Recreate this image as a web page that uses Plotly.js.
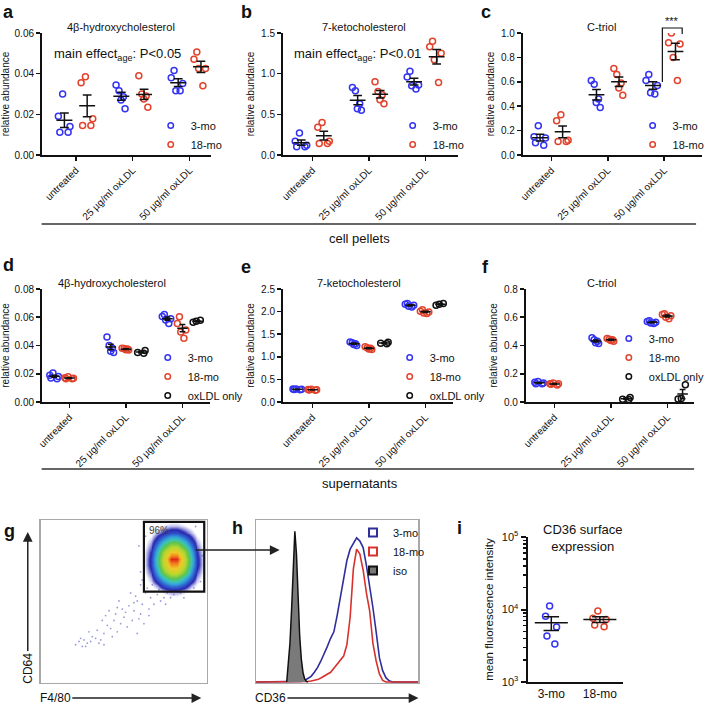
<!DOCTYPE html>
<html>
<head>
<meta charset="utf-8">
<script src="https://cdn.plot.ly/plotly-3.0.1.min.js"></script>
<style>html,body{margin:0;padding:0;background:#fff}#fig{width:710px;height:706px}</style>
</head>
<body>
<div id="fig"></div>
<script>
var W = 710, H = 706;
function px(x) { return x / W; }
function py(y) { return 1 - y / H; }

var FONT = 'Liberation Sans, Arial, sans-serif';
var blue = '#3434f2', red = '#e2432d', ink = '#111';

var treat = ['untreated', '25 µg/ml oxLDL', '50 µg/ml oxLDL'];
var sup = ['25 µg/ml oxLDL', '50 µg/ml oxLDL'];

// cell pellets (a-c): one array per treatment, 5 mice each
var a3 = [[0.030, 0.019, 0.014, 0.0112, 0.0112], [0.0344, 0.0316, 0.0286, 0.027, 0.0228], [0.0415, 0.038, 0.0352, 0.0316, 0.0316]];
var a18 = [[0.0385, 0.0355, 0.0178, 0.0145, 0.0145], [0.039, 0.030, 0.029, 0.0275, 0.0235], [0.0506, 0.0471, 0.0426, 0.0426, 0.034]];
var b3 = [[0.27, 0.17, 0.12, 0.10, 0.10], [0.83, 0.79, 0.63, 0.57, 0.55], [1.03, 0.96, 0.86, 0.85, 0.81]];
var b18 = [[0.40, 0.34, 0.17, 0.14, 0.14], [0.90, 0.78, 0.74, 0.68, 0.63], [1.40, 1.33, 1.25, 1.17, 0.89]];
var c3 = [[0.24, 0.15, 0.14, 0.10, 0.08], [0.61, 0.58, 0.46, 0.43, 0.39], [0.66, 0.61, 0.57, 0.51, 0.50]];
var c18 = [[0.33, 0.28, 0.12, 0.11, 0.11], [0.71, 0.66, 0.59, 0.55, 0.49], [1.0, 0.92, 0.91, 0.80, 0.61]];

// supernatants (d-f)
var d3 = [[0.0205, 0.019, 0.018, 0.017, 0.0165], [0.046, 0.040, 0.038, 0.036, 0.035], [0.062, 0.0605, 0.059, 0.058, 0.0555]];
var d18 = [[0.0178, 0.0172, 0.0168, 0.0165, 0.0165], [0.038, 0.0378, 0.0375, 0.037, 0.0368], [0.0603, 0.0555, 0.051, 0.0495, 0.0452]];
var dOx = [[0.0365, 0.035, 0.0345], [0.0578, 0.0572, 0.0565]];
var e3 = [[0.29, 0.285, 0.28, 0.275, 0.27], [1.33, 1.31, 1.29, 1.27, 1.25], [2.18, 2.16, 2.14, 2.12, 2.10]];
var e18 = [[0.28, 0.275, 0.27, 0.265, 0.26], [1.22, 1.20, 1.19, 1.17, 1.16], [2.04, 2.01, 1.99, 1.97, 1.96]];
var eOx = [[1.32, 1.30, 1.29], [2.18, 2.16, 2.14]];
var f3 = [[0.145, 0.14, 0.135, 0.13, 0.13], [0.455, 0.44, 0.43, 0.42, 0.415], [0.575, 0.57, 0.565, 0.56, 0.555]];
var f18 = [[0.135, 0.13, 0.13, 0.125, 0.12], [0.45, 0.445, 0.44, 0.435, 0.43], [0.625, 0.62, 0.61, 0.60, 0.59]];
var fOx = [[0.032, 0.02, 0.018], [0.122, 0.025, 0.022]];

// g: F4/80 x CD64 density (arbitrary 0-100 scale)
var gX = [58, 62, 66, 70, 74, 78, 82, 86, 90, 94, 98];
var gY = [52, 56, 60, 64, 68, 72, 76, 80, 84, 88, 92, 96, 100];
var gZ = [
  [0, 0, 0, 0, 0, 0.1, 0.1, 0, 0, 0, 0],
  [0, 0, 0, 0.1, 0.4, 0.6, 0.6, 0.4, 0.1, 0, 0],
  [0, 0, 0.2, 0.6, 1.5, 2.1, 2.1, 1.5, 0.6, 0.2, 0],
  [0, 0.05, 0.5, 1.6, 3.0, 4.3, 4.3, 3.0, 1.6, 0.5, 0.05],
  [0, 0.15, 0.8, 2.4, 5.0, 6.8, 6.8, 5.0, 2.4, 0.8, 0.15],
  [0, 0.2, 1.1, 3.1, 6.3, 8.6, 8.6, 6.3, 3.1, 1.1, 0.2],
  [0, 0.2, 1.1, 3.3, 6.6, 10, 10, 6.6, 3.3, 1.1, 0.2],
  [0, 0.2, 0.9, 2.8, 5.7, 7.8, 7.8, 5.7, 2.8, 0.9, 0.2],
  [0, 0.1, 0.65, 2.0, 3.9, 5.6, 5.6, 3.9, 2.0, 0.65, 0.1],
  [0, 0.05, 0.35, 1.1, 2.2, 3.1, 3.1, 2.2, 1.1, 0.35, 0.05],
  [0, 0, 0.1, 0.5, 0.95, 1.4, 1.4, 0.95, 0.5, 0.1, 0],
  [0, 0, 0, 0.1, 0.3, 0.45, 0.45, 0.3, 0.1, 0, 0],
  [0, 0, 0, 0, 0, 0.05, 0.05, 0, 0, 0, 0]
];
// sparse events outside the dense population
var tailX = [21, 23, 25, 26, 28, 30, 27, 33, 35, 24, 31, 36, 38, 34, 38, 40, 42, 37, 44, 46, 45, 48, 50, 52, 49, 53, 55, 56, 58, 60, 57, 61, 63, 62, 65, 66, 68, 64, 70, 67, 72, 74, 71, 76, 78, 80, 84, 88, 92, 86, 75, 58, 47, 41, 54, 60, 69, 96, 95, 97, 60, 62, 59, 63, 98, 66, 93, 61, 43, 39, 29, 51, 56, 73, 79, 83, 90, 65, 59, 46];
var tailY = [23, 25, 22, 26, 24, 25, 22, 27, 24, 27, 28, 26, 23, 32, 30, 35, 33, 38, 38, 31, 42, 36, 40, 34, 45, 47, 38, 44, 50, 42, 53, 48, 55, 36, 45, 52, 48, 58, 54, 60, 50, 52, 57, 55, 52, 54, 55, 56, 58, 52, 48, 30, 50, 44, 55, 60, 64, 62, 70, 78, 68, 76, 84, 90, 86, 94, 96, 63, 28, 41, 31, 43, 49, 58, 57, 58, 60, 41, 39, 46];

// h: CD36 histograms (channel 0-100, % of max)
var histX = [0, 2, 4, 6, 8, 10, 12, 14, 16, 18, 20, 22, 24, 26, 28, 30, 32, 34, 36, 38, 40, 42, 44, 46, 48, 50, 52, 54, 56, 58, 60, 62, 64, 66, 68, 70, 72, 74, 76, 78, 80, 82, 84, 86, 88, 90, 92, 94, 96, 98, 100];
var hist3 = [0, 0, 0, 0, 0, 0, 0, 0, 0, 0, 0, 0, 0, 0, 0.4, 1, 2, 3.5, 6, 9, 13, 17, 22, 27, 31, 41, 52, 64, 75, 82, 86, 89, 87, 83, 72, 60, 46, 31, 15, 7, 2.7, 0.8, 0, 0, 0, 0, 0, 0, 0, 0, 0];
var hist18 = [0, 0, 0, 0, 0, 0, 0, 0, 0, 0, 0, 0, 0, 0, 0, 0, 0.3, 0.6, 1, 1.5, 2.5, 3.5, 4.5, 6, 8.5, 11, 13, 16, 23, 40, 70, 82, 79, 69, 55, 44, 24, 13, 5, 1, 0, 0, 0, 0, 0, 0, 0, 0, 0, 0, 0];
var isoX = [19, 20, 21, 22, 23, 24, 25, 26, 27, 28, 29, 30, 31, 32];
var isoY = [0, 10, 24, 45, 76, 93, 79, 50, 28, 14, 6, 2, 0.5, 0];

// i: CD36 MFI
var iCats = ['3-mo', '18-mo'];
var i3 = [11200, 8100, 5750, 4300, 3350];
var i18 = [9500, 7600, 7300, 6100, 5800];

function mean(v) { return v.reduce(function (s, x) { return s + x; }, 0) / v.length; }
function sem(v) {
  var m = mean(v);
  var ss = v.reduce(function (s, x) { return s + (x - m) * (x - m); }, 0);
  return Math.sqrt(ss / (v.length - 1)) / Math.sqrt(v.length);
}

function dots(ax, cats, vals, color, og, jit) {
  var xs = [], ys = [];
  vals.forEach(function (v, i) { v.forEach(function (y) { xs.push(cats[i]); ys.push(y); }); });
  return {
    type: 'box', x: xs, y: ys, xaxis: 'x' + ax, yaxis: 'y' + ax, offsetgroup: og,
    boxpoints: 'all', jitter: jit, pointpos: 0,
    line: {width: 0, color: color}, fillcolor: 'rgba(0,0,0,0)',
    marker: {symbol: 'circle-open', size: 6, color: color, line: {width: 1.5, color: color}},
    showlegend: false, hoverinfo: 'skip'
  };
}
function meanSem(ax, cats, vals, og, width) {
  var m = vals.map(mean), s = vals.map(sem);
  var t = {
    type: 'box', x: cats, q1: m, median: m, q3: m,
    lowerfence: m.map(function (v, i) { return v - s[i]; }),
    upperfence: m.map(function (v, i) { return v + s[i]; }),
    xaxis: 'x' + ax, yaxis: 'y' + ax, offsetgroup: og, boxpoints: false,
    whiskerwidth: 0.55, line: {color: ink, width: 1.5}, fillcolor: 'rgba(0,0,0,0)',
    showlegend: false, hoverinfo: 'skip'
  };
  if (width) { t.width = width; t.whiskerwidth = 0.47; }
  return t;
}
function key(name, color, legend, symbol, fill, lw) {
  return {
    type: 'scatter', x: [null], y: [null], mode: 'markers', name: name, legend: legend,
    marker: {symbol: symbol || 'circle-open', size: symbol ? 8 : 5.5, color: fill || color, line: {width: lw || 1.5, color: color}},
    hoverinfo: 'skip'
  };
}

var data = [];
function panel(ax, g3, g18, gOx, legend) {
  data.push(dots(ax, treat, g3, blue, '3mo', gOx ? 1 : 0.9), meanSem(ax, treat, g3, '3mo'));
  data.push(dots(ax, treat, g18, red, '18mo', gOx ? 1 : 0.9), meanSem(ax, treat, g18, '18mo'));
  if (gOx) data.push(dots(ax, sup, gOx, ink, 'ox', 1), meanSem(ax, sup, gOx, 'ox'));
  data.push(key('3-mo', blue, legend), key('18-mo', red, legend));
  if (gOx) data.push(key('oxLDL only', ink, legend));
}
panel('', a3, a18, null, 'legend');
panel('2', b3, b18, null, 'legend2');
panel('3', c3, c18, null, 'legend3');
panel('4', d3, d18, dOx, 'legend4');
panel('5', e3, e18, eOx, 'legend5');
panel('6', f3, f18, fOx, 'legend6');

// g
data.push({
  type: 'scatter', mode: 'markers', x: tailX, y: tailY, xaxis: 'x7', yaxis: 'y7',
  marker: {size: 1.8, color: '#4848c0', opacity: 0.55}, showlegend: false, hoverinfo: 'skip'
});
data.push({
  type: 'heatmap', x: gX, y: gY, z: gZ, zsmooth: 'best', zmin: 0, zmax: 10, showscale: false,
  xaxis: 'x7', yaxis: 'y7', hoverinfo: 'skip',
  colorscale: [[0, 'rgba(255,255,255,0)'], [0.02, 'rgba(70,70,200,0)'], [0.05, 'rgba(50,50,190,0.4)'],
    [0.09, '#2a2ab0'], [0.16, '#2f5fd0'], [0.24, '#35a0d8'], [0.32, '#3cc4b8'],
    [0.42, '#5cc450'], [0.6, '#b8d830'], [0.78, '#f0c828'], [0.9, '#f08020'], [1, '#e02818']]
});

// h
var navy = '#2f2f9c', hred = '#d8312c';
data.push({type: 'scatter', mode: 'lines', x: histX, y: hist3, xaxis: 'x8', yaxis: 'y8', line: {color: navy, width: 1.6}, showlegend: false, hoverinfo: 'skip'});
data.push({type: 'scatter', mode: 'lines', x: histX, y: hist18, xaxis: 'x8', yaxis: 'y8', line: {color: hred, width: 1.6}, showlegend: false, hoverinfo: 'skip'});
data.push({type: 'scatter', mode: 'lines', x: isoX, y: isoY, xaxis: 'x8', yaxis: 'y8', fill: 'tozeroy', fillcolor: '#7a7a7a', line: {color: ink, width: 1.5}, showlegend: false, hoverinfo: 'skip'});
data.push(key('3-mo', navy, 'legend7', 'square', '#fff', 2), key('18-mo', hred, 'legend7', 'square', '#fff', 2), key('iso', ink, 'legend7', 'square', '#777', 2));

// i
data.push(dots('9', ['3-mo'], [i3], blue, 'i', 0.5), dots('9', ['18-mo'], [i18], red, 'i', 0.6));
data.push(meanSem('9', ['3-mo'], [i3], 'i', 0.68), meanSem('9', ['18-mo'], [i18], 'i', 0.68));

function catAxis(x0, x1, anchor, range) {
  return {
    domain: [px(x0), px(x1)], anchor: anchor, type: 'category', categoryorder: 'array', categoryarray: treat,
    range: range, showline: true, linecolor: ink, linewidth: 1.6, ticks: 'outside', ticklen: 4, tickwidth: 1.6,
    tickcolor: ink, tickangle: -45, tickfont: {size: 10, color: ink}, showgrid: false, zeroline: false, fixedrange: true
  };
}
function valAxis(y0, y1, anchor, max, dtick, fmt) {
  return {
    domain: [py(y1), py(y0)], anchor: anchor, range: [0, max], dtick: dtick, tickformat: fmt,
    showline: true, linecolor: ink, linewidth: 1.6, ticks: 'outside', ticklen: 4, tickwidth: 1.6, tickcolor: ink,
    tickfont: {size: 10, color: ink}, showgrid: false, zeroline: false, fixedrange: true,
    title: {text: 'relative abundance', font: {size: 10, color: ink}, standoff: 4}
  };
}
function frame(x0, x1, y0, y1, anchor, isY) {
  return {
    domain: isY ? [py(y1), py(y0)] : [px(x0), px(x1)], anchor: anchor, range: isY ? [-0.6, 100] : [0, 100],
    showline: true, mirror: true, linecolor: '#a8a8a8', linewidth: 1.2, ticks: '', showticklabels: false,
    showgrid: false, zeroline: false, fixedrange: true
  };
}
function leg(x, y) {
  return {x: px(x), y: py(y), xanchor: 'left', yanchor: 'top', bgcolor: 'rgba(0,0,0,0)', borderwidth: 0,
    font: {size: 11, color: ink}, tracegroupgap: 0, itemclick: false, itemdoubleclick: false};
}
function txt(x, y, text, size, extra) {
  var a = {xref: 'paper', yref: 'paper', x: px(x), y: py(y), text: text, showarrow: false,
    xanchor: 'center', yanchor: 'middle', font: {size: size, color: ink}};
  for (var k in extra) a[k] = extra[k];
  return a;
}
function arrow(xTip, yTip, ax, ay, text, extra) {
  var a = {xref: 'paper', yref: 'paper', x: px(xTip), y: py(yTip), ax: ax, ay: ay, text: text,
    showarrow: true, arrowhead: 2, arrowsize: 1.3, arrowwidth: 1.5, arrowcolor: '#222', font: {size: 12, color: ink}};
  for (var k in extra) a[k] = extra[k];
  return a;
}

var layout = {
  width: W, height: H, margin: {l: 0, r: 0, t: 0, b: 0}, paper_bgcolor: '#fff', plot_bgcolor: 'rgba(0,0,0,0)',
  font: {family: FONT, color: ink}, hovermode: false,
  boxmode: 'group', boxgap: 0.2, boxgroupgap: 0.3,
  xaxis: catAxis(42, 213, 'y', [-0.6, 2.38]), yaxis: valAxis(33, 155, 'x', 0.06, 0.02, '.2f'),
  xaxis2: catAxis(285, 462, 'y2', [-0.53, 2.58]), yaxis2: valAxis(33, 155, 'x2', 1.5, 0.5, '.1f'),
  xaxis3: catAxis(527, 708, 'y3', [-0.51, 2.67]), yaxis3: valAxis(33, 155, 'x3', 1.0, 0.2, '.1f'),
  xaxis4: catAxis(42, 212, 'y4', [-0.49, 2.49]), yaxis4: valAxis(289, 402, 'x4', 0.08, 0.02, '.2f'),
  xaxis5: catAxis(285, 457, 'y5', [-0.53, 2.49]), yaxis5: valAxis(289, 402, 'x5', 2.5, 0.5, '.1f'),
  xaxis6: catAxis(530, 700, 'y6', [-0.51, 2.47]), yaxis6: valAxis(289, 402, 'x6', 0.8, 0.2, '.1f'),
  xaxis7: frame(41, 209, 0, 0, 'y7', false), yaxis7: frame(0, 0, 520, 683, 'x7', true),
  xaxis8: frame(258, 422, 0, 0, 'y8', false), yaxis8: frame(0, 0, 520, 683, 'x8', true),
  xaxis9: {
    domain: [px(532), px(628)], anchor: 'y9', type: 'category', categoryarray: iCats, categoryorder: 'array',
    range: [-0.49, 1.47], showline: true, linecolor: ink, linewidth: 2, ticks: '', tickfont: {size: 12, color: ink},
    showgrid: false, zeroline: false, fixedrange: true
  },
  yaxis9: {
    domain: [py(682), py(537)], anchor: 'x9', type: 'log', range: [3, 5],
    tickvals: [1000, 10000, 100000], ticktext: ['10<sup>3</sup>', '10<sup>4</sup>', '10<sup>5</sup>'],
    minor: {ticks: 'outside', ticklen: 3, tickwidth: 1.5, tickcolor: ink,
      tickvals: [2000, 3000, 4000, 5000, 6000, 7000, 8000, 9000, 20000, 30000, 40000, 50000, 60000, 70000, 80000, 90000]},
    showline: true, linecolor: ink, linewidth: 2, ticks: 'outside', ticklen: 5, tickwidth: 2, tickcolor: ink,
    tickfont: {size: 11, color: ink}, showgrid: false, zeroline: false, fixedrange: true,
    title: {text: 'mean fluorescence intensity', font: {size: 11.5, color: ink}, standoff: 6}
  },
  legend: leg(152, 111), legend2: leg(396, 111), legend3: leg(638, 111),
  legend4: leg(149, 343), legend5: leg(393, 343), legend6: leg(614, 324),
  legend7: leg(356, 518),
  shapes: [
    {type: 'line', xref: 'paper', yref: 'paper', x0: px(42), x1: px(702), y0: py(224), y1: py(224), line: {color: '#333', width: 1.5}},
    {type: 'line', xref: 'paper', yref: 'paper', x0: px(42), x1: px(700), y0: py(469), y1: py(469), line: {color: '#333', width: 1.5}},
    {type: 'path', xref: 'paper', yref: 'paper', line: {color: ink, width: 1.2},
      path: 'M' + px(668) + ',' + py(82) + 'L' + px(668) + ',' + py(28) + 'L' + px(688) + ',' + py(28) + 'L' + px(688) + ',' + py(34)},
    {type: 'rect', xref: 'x7', yref: 'y7', x0: 62, x1: 98.2, y0: 55.8, y1: 98.8, line: {color: ink, width: 2.2}}
  ],
  annotations: [
    txt(9, 12, '<b>a</b>', 18), txt(249, 12, '<b>b</b>', 18), txt(490, 12, '<b>c</b>', 18),
    txt(9, 265, '<b>d</b>', 18), txt(248, 267, '<b>e</b>', 18), txt(490, 267, '<b>f</b>', 18),
    txt(10, 531, '<b>g</b>', 18), txt(240, 528, '<b>h</b>', 18), txt(463, 528, '<b>i</b>', 18),
    txt(122, 27, '4β-hydroxycholesterol', 11), txt(367, 27, '7-ketocholesterol', 11), txt(607, 27, 'C-triol', 11),
    txt(113, 283, '4β-hydroxycholesterol', 11), txt(362, 283, '7-ketocholesterol', 11), txt(607, 283, 'C-triol', 11),
    txt(119, 55, 'main effect<sub>age</sub>: P&lt;0.05', 13), txt(361, 55, 'main effect<sub>age</sub>: P&lt;0.01', 13),
    txt(678, 21, '***', 11),
    txt(363, 238, 'cell pellets', 13), txt(363, 483, 'supernatants', 13),
    txt(160, 530, '96%', 10, {font: {size: 10, color: '#444'}}),
    txt(587, 538, 'CD36 surface<br>expression', 13),
    arrow(28, 532, 0, 136, 'CD64', {textangle: -90}),
    arrow(203, 698, -146, 0, 'F4/80'),
    arrow(422, 698, -148, 0, 'CD36'),
    arrow(282, 550, -87, 0, ' ')
  ]
};

Plotly.newPlot('fig', data, layout, {displayModeBar: false, staticPlot: true});
</script>
</body>
</html>
